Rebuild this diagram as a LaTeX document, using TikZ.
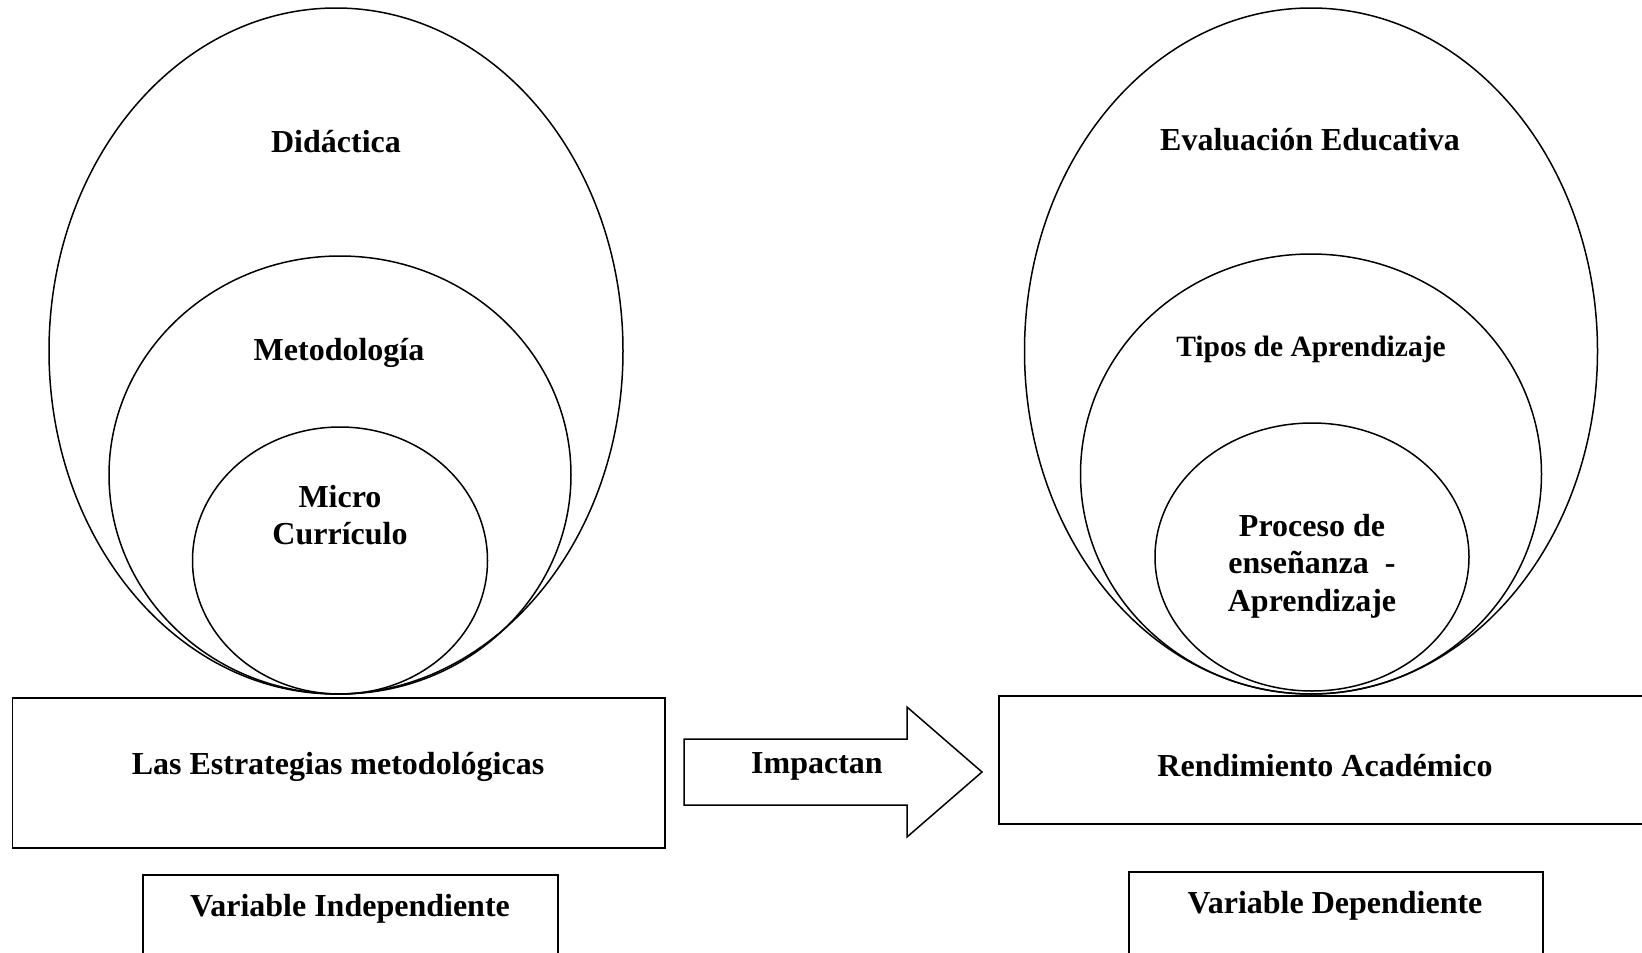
\documentclass[tikz,border=0pt]{standalone}
\usepackage{fontspec}
\setmainfont{Liberation Serif}
\usetikzlibrary{shapes.geometric}
\begin{document}
\begin{tikzpicture}[x=1pt,y=-1pt,
  ring/.style={ellipse,draw,line width=1.5pt,inner sep=0pt},
  panel/.style={draw,line width=1.5pt},
  lbl/.style={font=\fontsize{32}{37.5}\selectfont\bfseries,align=center,inner sep=0pt}]
\useasboundingbox (0,0) rectangle (1642,953);
\clip (0,0) rectangle (1642,953);

% nested ellipses, left: independent variable
\node[ring,minimum width=574,minimum height=686] (didE) at (336,351) {};
\node[ring,minimum width=462,minimum height=438] (metE) at (340,475) {};
\node[ring,minimum width=295,minimum height=267] (micE) at (340,560.5) {};
\node[lbl] (did) at (336,142) {Didáctica};
\node[lbl] (met) at (339,353) {Metodología};
\node[lbl] (mic) at (340,515) {Micro\\Currículo};

% nested ellipses, right: dependent variable
\node[ring,minimum width=573,minimum height=686] (evaE) at (1311,351) {};
\node[ring,minimum width=461,minimum height=440] (tipE) at (1311,474) {};
\node[ring,minimum width=314,minimum height=268] (proE) at (1312,557) {};
\node[lbl] (eva) at (1310,140) {Evaluación Educativa};
\node[lbl,font=\fontsize{29.5}{34}\selectfont\bfseries] (tip) at (1311,349) {Tipos de Aprendizaje};
\node[lbl] (pro) at (1312,566) {Proceso de\\enseñanza \ -\\Aprendizaje};

% main boxes
\draw[panel] (12.6,698) rectangle (665,848);
\node[lbl] (estr) at (338,767) {Las Estrategias metodológicas};
\draw[panel] (999,696) rectangle (1660,824);
\node[lbl] (rend) at (1325,766) {Rendimiento Académico};

% variable boxes
\draw[panel] (143,875) rectangle (558,970);
\node[lbl] (vind) at (350,909) {Variable Independiente};
\draw[panel] (1129,872) rectangle (1543,970);
\node[lbl] (vdep) at (1335,906) {Variable Dependiente};

% block arrow
\draw[panel,line join=miter] (684,739) -- (907,739) -- (907,707) -- (982,772)
  -- (907,837) -- (907,805) -- (684,805) -- cycle;
\node[lbl] (imp) at (817,766) {Impactan};
\end{tikzpicture}
\end{document}
